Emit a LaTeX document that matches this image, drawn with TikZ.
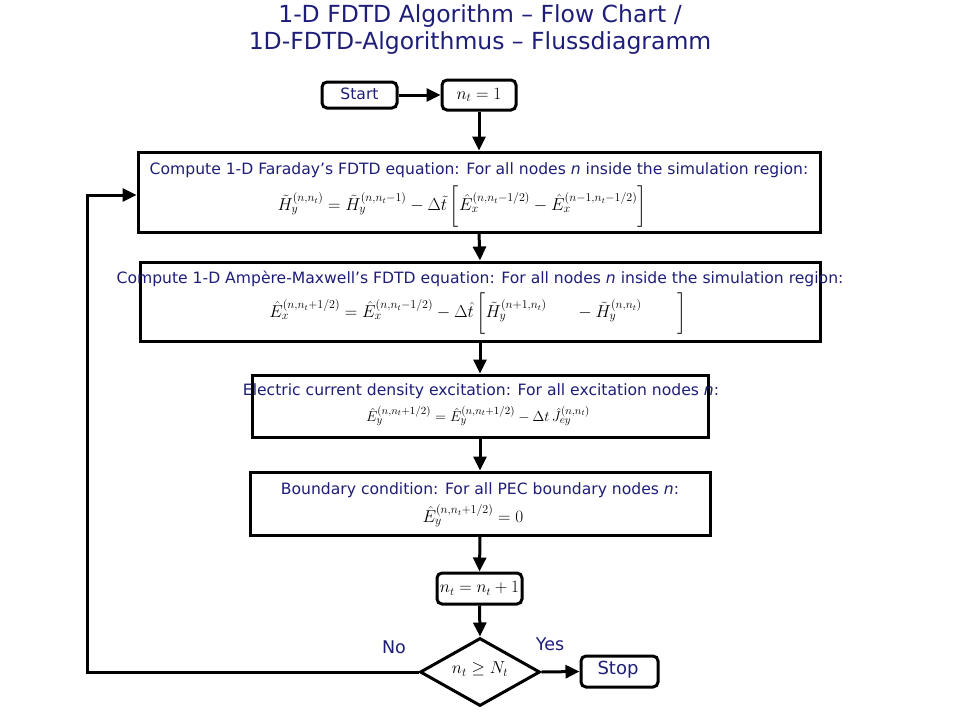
\documentclass[tikz,border=0pt]{standalone}
\usepackage{amsmath}
\usepackage{fontspec}
\setmainfont{DejaVu Sans}
\usetikzlibrary{arrows.meta,shapes.geometric,calc}
\definecolor{navy}{RGB}{30,30,120}
\begin{document}
\begin{tikzpicture}[x=1pt,y=-1pt,
  box/.style={draw=black,line width=3pt,inner sep=0pt},
  rbox/.style={box,rounded corners=5pt},
  lbl/.style={text=navy,inner sep=0pt,font=\fontsize{15.6}{18}\selectfont},
  big/.style={text=navy,inner sep=0pt,font=\fontsize{17.5}{20}\selectfont},
  eq/.style={text=black,inner sep=0pt,font=\fontsize{17}{20}\selectfont},
  conn/.style={line width=3pt,-{Triangle[length=14pt,width=13pt]}}]
\useasboundingbox (0,0) rectangle (960,720);
\fill[white] (0,0) rectangle (960,720);
% title
\node[text=navy,align=center,font=\fontsize{23.5}{27}\selectfont] (title) at (480,30)
  {1-D FDTD Algorithm -- Flow Chart /\\1D-FDTD-Algorithmus -- Flussdiagramm};
% boxes
\node[rbox,minimum width=75pt,minimum height=26pt] (start) at (359.5,95) {};
\node[lbl] (starttxt) at (359.5,94) {Start};
\node[rbox,minimum width=74pt,minimum height=30pt,font=\fontsize{17}{20}\selectfont] (nt1) at (479,95) {$n_t=1$};
\node[box,minimum width=682pt,minimum height=80pt] (b1) at (479,192) {};
\node[box,minimum width=680pt,minimum height=79pt] (b2) at (480,301.5) {};
\node[box,minimum width=456pt,minimum height=62pt] (b3) at (480,406) {};
\node[box,minimum width=460pt,minimum height=63pt] (b4) at (480,503.5) {};
\node[rbox,minimum width=85pt,minimum height=31pt,font=\fontsize{16}{18}\selectfont] (inc) at (479.5,588.5) {$n_t=n_t+1$};
\node[diamond,draw=black,line width=3pt,inner sep=0pt,minimum width=120pt,minimum height=68pt] (dia) at (480,672) {};
\node[eq,font=\fontsize{18}{20}\selectfont] (diatxt) at (480,669) {$n_t\geq N_t$};
\node[rbox,minimum width=77pt,minimum height=31pt] (stop) at (619.5,671.5) {};
\node[big,font=\fontsize{18}{20}\selectfont] (stoptxt) at (618,670) {Stop};
% texts
\node[lbl] (t1) at (479,170) {Compute 1-D Faraday's FDTD equation: For all nodes \textit{n} inside the simulation region:};
\node[eq] (e1) at (462,206) {$\tilde{H}_y^{(n,n_t)}=\tilde{H}_y^{(n,n_t-1)}-\Delta\tilde{t}\left[\hat{E}_x^{(n,n_t-1/2)}-\hat{E}_x^{(n-1,n_t-1/2)}\vphantom{\rule{0pt}{26pt}}\right]$};
\node[lbl] (t2) at (480,279) {Compute 1-D Ampère-Maxwell's FDTD equation: For all nodes \textit{n} inside the simulation region:};
\node[eq] (e2) at (478,313) {$\hat{E}_x^{(n,n_t+1/2)}=\hat{E}_x^{(n,n_t-1/2)}-\Delta\hat{t}\left[\tilde{H}_y^{(n+1,n_t)}\hspace{28pt}-\tilde{H}_y^{(n,n_t)}\hspace{36pt}\vphantom{\rule{0pt}{26pt}}\right]$};
\node[lbl] (t3) at (481,391) {Electric current density excitation: For all excitation nodes \textit{n}:};
\node[eq,font=\fontsize{15.6}{18}\selectfont] (e3) at (478,416) {$\hat{E}_y^{(n,n_t+1/2)}=\hat{E}_y^{(n,n_t+1/2)}-\Delta t\,\hat{J}_{ey}^{(n,n_t)}$};
\node[lbl] (t4) at (480,490) {Boundary condition: For all PEC boundary nodes \textit{n}:};
\node[eq] (e4) at (473,516) {$\hat{E}_y^{(n,n_t+1/2)}=0$};
\node[big] (no) at (394,647) {No};
\node[big] (yes) at (550,644) {Yes};
% connectors
\draw[conn] (start.east) -- (nt1.west);
\draw[conn] (nt1.south) -- (b1.north);
\draw[conn] (b1.south) -- (b2.north);
\draw[conn] (b2.south) -- (b3.north);
\draw[conn] (b3.south) -- (b4.north);
\draw[conn] (b4.south) -- (inc.north);
\draw[conn] (inc.south) -- (dia.north);
\draw[conn] (dia.east) -- (stop.west);
\coordinate (loop) at (87,672);
\draw[conn] (dia.west) -- (loop) |- ([yshift=-3pt]b1.west);
\end{tikzpicture}
\end{document}
